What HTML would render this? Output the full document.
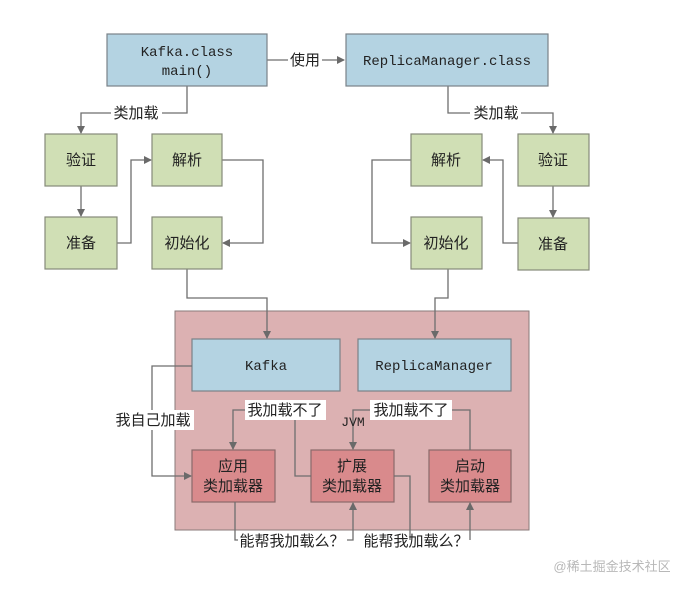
<!DOCTYPE html>
<html><head><meta charset="utf-8"><style>
html,body{margin:0;padding:0;background:#fff;}
svg{display:block}
.m{font-family:"Liberation Mono",monospace;font-size:14px;fill:#222}
.c{font-family:"Liberation Sans","Noto Sans CJK SC",sans-serif;font-size:15px;fill:#222}
</style></head><body>
<svg width="695" height="590" viewBox="0 0 695 590" xmlns="http://www.w3.org/2000/svg">
<defs><marker id="a" markerWidth="8" markerHeight="8" refX="7" refY="4" orient="auto" markerUnits="userSpaceOnUse"><path d="M0,0 L8,4 L0,8 Z" fill="#6a6a6a"/></marker></defs>
<rect x="175" y="311" width="354" height="219" fill="#dcb1b2" stroke="#8a7a7a" stroke-width="1"/>
<g fill="none" stroke="#6e6e6e" stroke-width="1.3">
<path d="M267 60 H344" marker-end="url(#a)"/>
<path d="M187 86 V113 H81 V133" marker-end="url(#a)"/>
<path d="M448 86 V113 H553 V133" marker-end="url(#a)"/>
<path d="M81 186 V216" marker-end="url(#a)"/>
<path d="M117 243 H131 V160 H151" marker-end="url(#a)"/>
<path d="M222 160 H263 V243 H223" marker-end="url(#a)"/>
<path d="M187 269 V298 H267 V338" marker-end="url(#a)"/>
<path d="M553 186 V217" marker-end="url(#a)"/>
<path d="M518 243 H503 V160 H483" marker-end="url(#a)"/>
<path d="M411 160 H372 V243 H410" marker-end="url(#a)"/>
<path d="M448 269 V298 H435 V338" marker-end="url(#a)"/>
</g>
<g stroke="#7a8288" stroke-width="1.2">
<rect x="107" y="34" width="160" height="52" fill="#b4d3e2"/>
<rect x="346" y="34" width="202" height="52" fill="#b4d3e2"/>
<rect x="192" y="339" width="148" height="52" fill="#b4d3e2"/>
<rect x="358" y="339" width="153" height="52" fill="#b4d3e2"/>
</g>
<g stroke="#858a7a" stroke-width="1.2" fill="#d0dfb5">
<rect x="45" y="134" width="72" height="52"/>
<rect x="45" y="217" width="72" height="52"/>
<rect x="152" y="134" width="70" height="52"/>
<rect x="152" y="217" width="70" height="52"/>
<rect x="411" y="134" width="71" height="52"/>
<rect x="411" y="217" width="71" height="52"/>
<rect x="518" y="134" width="71" height="52"/>
<rect x="518" y="218" width="71" height="52"/>
</g>
<g stroke="#8a6a6a" stroke-width="1.2" fill="#d98a8c">
<rect x="192" y="450" width="83" height="52"/>
<rect x="311" y="450" width="83" height="52"/>
<rect x="429" y="450" width="82" height="52"/>
</g>
<g fill="none" stroke="#6e6e6e" stroke-width="1.3">
<path d="M192 366 H152 V476 H191" marker-end="url(#a)"/>
<path d="M245 410 H233 V449" marker-end="url(#a)"/>
<path d="M295 420 V476 H311"/>
<path d="M370 410 H353 V449" marker-end="url(#a)"/>
<path d="M452 410 H470 V450"/>
<path d="M235 502 V540 H238"/>
<path d="M347 540 H353 V503" marker-end="url(#a)"/>
<path d="M394 476 H410 V540"/>
<path d="M470 540 V503" marker-end="url(#a)"/>
</g>
<g fill="#fff">
<rect x="288" y="51" width="34" height="18"/>
<rect x="111" y="104" width="51" height="18"/>
<rect x="470" y="104" width="51" height="18"/>
<rect x="112" y="410" width="82" height="20"/>
<rect x="245" y="400" width="81" height="20"/>
<rect x="370" y="400" width="82" height="20"/>
</g>
<g class="m" text-anchor="middle">
<text x="187" y="56">Kafka.class</text>
<text x="187" y="75">main()</text>
<text x="447" y="65">ReplicaManager.class</text>
<text x="266" y="370">Kafka</text>
<text x="434" y="370">ReplicaManager</text>
<text x="353" y="426" font-size="13">JVM</text>
</g>
<g class="c" text-anchor="middle">
<text x="305" y="65">使用</text>
<text x="136" y="118">类加载</text>
<text x="496" y="118">类加载</text>
<text x="81" y="165">验证</text>
<text x="81" y="248">准备</text>
<text x="187" y="165">解析</text>
<text x="187" y="248">初始化</text>
<text x="446" y="165">解析</text>
<text x="446" y="248">初始化</text>
<text x="553" y="165">验证</text>
<text x="553" y="249">准备</text>
<text x="153" y="425">我自己加载</text>
<text x="285" y="415">我加载不了</text>
<text x="411" y="415">我加载不了</text>
<text x="233" y="471">应用</text>
<text x="233" y="491">类加载器</text>
<text x="352" y="471">扩展</text>
<text x="352" y="491">类加载器</text>
<text x="470" y="471">启动</text>
<text x="470" y="491">类加载器</text>
<text x="292" y="546">能帮我加载么？</text>
<text x="416" y="546">能帮我加载么？</text>
<text x="612" y="571" style="fill:#b8b8b8;font-size:13px">@稀土掘金技术社区</text>
</g>
</svg>
</body></html>
